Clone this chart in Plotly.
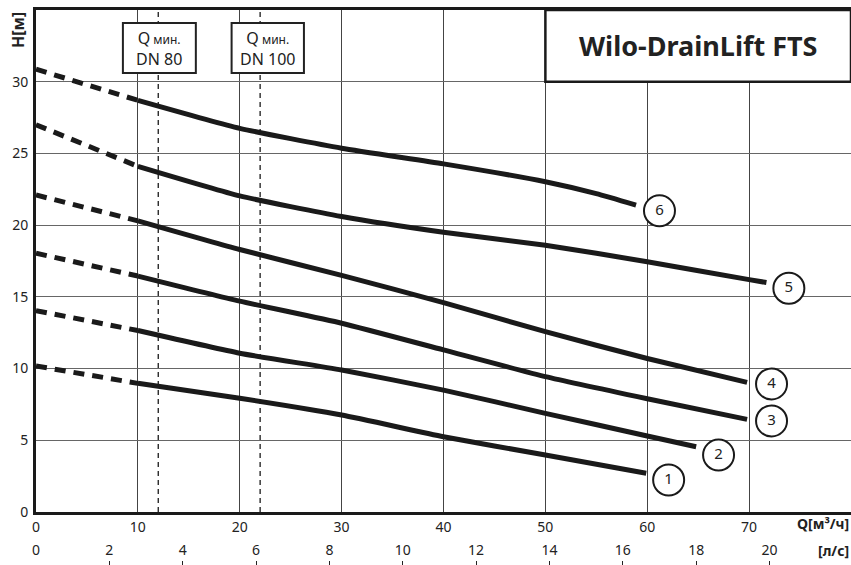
import plotly.graph_objects as go

# Q [m3/h] / H [m]
curve_names = ["1", "2", "3", "4", "5", "6"]
q1 = [0, 10, 20, 30, 40, 50, 59.9]
h1 = [10.18, 8.97, 7.93, 6.76, 5.25, 3.97, 2.7]
q2 = [0, 10, 20, 30, 40, 50, 60, 64.8]
h2 = [14.04, 12.65, 11.07, 9.9, 8.5, 6.88, 5.3, 4.55]
q3 = [0, 10, 20, 30, 40, 50, 60, 69.8]
h3 = [18.04, 16.45, 14.7, 13.16, 11.3, 9.44, 7.9, 6.46]
q4 = [0, 10, 20, 30, 40, 50, 60, 69.8]
h4 = [22.1, 20.3, 18.3, 16.5, 14.6, 12.57, 10.7, 9.04]
q5 = [0, 10, 20, 30, 40, 50, 60, 70, 71.7]
h5 = [27.0, 24.1, 22.04, 20.6, 19.5, 18.6, 17.45, 16.2, 16.0]
q6 = [0, 10, 20, 30, 40, 50, 55, 58.9]
h6 = [30.87, 28.7, 26.75, 25.36, 24.27, 23.03, 22.2, 21.4]

# curve number labels (circles)
label_q = [62.1, 67.0, 72.2, 72.2, 73.9, 61.2]
label_h = [2.23, 3.97, 6.35, 8.93, 15.6, 21.0]

q_min = [12, 22]
q_min_text = ["DN 80", "DN 100"]

x_ticks = [0, 10, 20, 30, 40, 50, 60, 70]
y_ticks = [0, 5, 10, 15, 20, 25, 30]
ls_ticks = [0, 2, 4, 6, 8, 10, 12, 14, 16, 18, 20]

FONT = "Noto Sans"
q_split = 10

fig = go.Figure()

for q, h in [(q1, h1), (q2, h2), (q3, h3), (q4, h4), (q5, h5), (q6, h6)]:
    qd = [a for a in q if a <= q_split]
    hd = [b for a, b in zip(q, h) if a <= q_split]
    qs = [a for a in q if a >= q_split]
    hs = [b for a, b in zip(q, h) if a >= q_split]
    fig.add_trace(go.Scatter(x=qd, y=hd, mode="lines",
                             line=dict(color="#1a1a1a", width=5, dash="11px,8px"),
                             hoverinfo="skip"))
    fig.add_trace(go.Scatter(x=qs, y=hs, mode="lines",
                             line=dict(color="#1a1a1a", width=5, shape="spline", smoothing=0.5)))

fig.add_trace(go.Scatter(x=label_q, y=label_h, mode="markers+text", text=curve_names,
                         textposition="middle center",
                         textfont=dict(family=FONT, size=15, color="#222"),
                         marker=dict(size=31, color="white", line=dict(color="#1a1a1a", width=2))))

# invisible traces so the l/s axes are drawn
for ax in ["x2", "x3"]:
    fig.add_trace(go.Scatter(x=[0, 80 / 3.6], y=[0, 0], xaxis=ax, mode="lines",
                             line=dict(width=0), hoverinfo="skip"))

# Q min dashed lines and boxes
for xv in q_min:
    fig.add_shape(type="line", x0=xv, x1=xv, y0=0, y1=35, xref="x", yref="y",
                  line=dict(color="#1a1a1a", width=1.3, dash="5px,4px"), layer="above")
for (x0, x1), txt in zip([(8.53, 15.69), (19.2, 26.3)], q_min_text):
    fig.add_shape(type="rect", x0=x0, x1=x1, y0=30.6, y1=34.1, xref="x", yref="y",
                  fillcolor="white", line=dict(color="#222", width=2), layer="above")
    fig.add_annotation(x=(x0 + x1) / 2, y=32.35, xref="x", yref="y", showarrow=False,
                       text="Q<span style='font-size:12px'> мин.</span><br>" + txt,
                       font=dict(family=FONT, size=16, color="#222"))

# title box
fig.add_shape(type="rect", x0=50, x1=80, y0=30, y1=35, xref="x", yref="y",
              fillcolor="white", line=dict(color="#1a1a1a", width=2.5), layer="above")
fig.add_annotation(x=65, y=32.5, xref="x", yref="y", showarrow=False,
                   text="<b>Wilo-DrainLift FTS</b>",
                   font=dict(family=FONT, size=27, color="#222"))

fig.add_annotation(x=-0.022, y=1.0, xref="paper", yref="paper", xanchor="center", yanchor="top",
                   showarrow=False, textangle=-90, text="<b>H[м]</b>",
                   font=dict(family=FONT, size=16, color="#222"))
fig.add_annotation(x=1.0, y=0.075, xref="paper", yref="paper", xanchor="right", yanchor="middle",
                   showarrow=False, text="<b>Q[м³/ч]</b>",
                   font=dict(family=FONT, size=14, color="#222"))
fig.add_annotation(x=1.0, y=0.027, xref="paper", yref="paper", xanchor="right", yanchor="middle",
                   showarrow=False, text="<b>[л/с]</b>",
                   font=dict(family=FONT, size=14, color="#222"))

tick_font = dict(family=FONT, size=14, color="#222")
fig.update_layout(
    width=851, height=565,
    margin=dict(l=36, r=0, t=10, b=0),
    paper_bgcolor="white", plot_bgcolor="white",
    showlegend=False,
    xaxis=dict(range=[0, 80], tickvals=x_ticks, showgrid=True, gridcolor="#444", gridwidth=1,
               showline=True, linecolor="#1a1a1a", linewidth=3, mirror=True, zeroline=False,
               ticks="", tickfont=tick_font, anchor="y", automargin=False),
    yaxis=dict(range=[0, 35], tickvals=y_ticks, showgrid=True, gridcolor="#666", gridwidth=1,
               showline=True, linecolor="#1a1a1a", linewidth=3, zeroline=False,
               domain=[0.0955, 1], ticks="", ticklabelstandoff=2, automargin=False,
               tickfont=tick_font),
    # l/s labels
    xaxis2=dict(range=[0, 80 / 3.6], tickvals=ls_ticks, overlaying="x", anchor="free",
                position=0.045, side="bottom", showgrid=False, showline=False, zeroline=False,
                ticks="", tickfont=tick_font, automargin=False),
    # l/s tick marks along the bottom edge
    xaxis3=dict(range=[0, 80 / 3.6], tickvals=ls_ticks, overlaying="x", anchor="free",
                position=0, side="bottom", showgrid=False, showline=False, zeroline=False,
                ticks="inside", ticklen=4, tickcolor="#222", showticklabels=False,
                automargin=False),
)

fig.write_html("out.html", config={"displayModeBar": False},
               post_script="document.body.style.margin='0';")
